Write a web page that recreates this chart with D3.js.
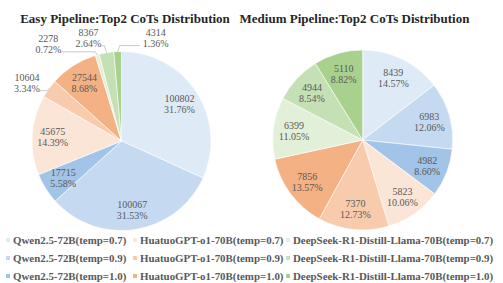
<!DOCTYPE html>
<html lang="en">
<head>
    <meta charset="UTF-8">
    <title>Top2 CoTs Distribution</title>
    <script src="https://d3js.org/d3.v7.min.js"></script>
    <style>
        body {
            margin: 0;
            padding: 0;
            background-color: white;
            font-family: 'Liberation Serif', 'Times New Roman', serif;
        }
    </style>
</head>
<body>
    <div id="chart"></div>

    <script>
        // series names (legend order = slice order)
        var seriesNames = [
            'Qwen2.5-72B(temp=0.7)', 'Qwen2.5-72B(temp=0.9)', 'Qwen2.5-72B(temp=1.0)',
            'HuatuoGPT-o1-70B(temp=0.7)', 'HuatuoGPT-o1-70B(temp=0.9)', 'HuatuoGPT-o1-70B(temp=1.0)',
            'DeepSeek-R1-Distill-Llama-70B(temp=0.7)', 'DeepSeek-R1-Distill-Llama-70B(temp=0.9)', 'DeepSeek-R1-Distill-Llama-70B(temp=1.0)'
        ];
        var seriesColors = [
            '#deebf7', '#c5daf0', '#a2c4e8',
            '#fbe5d6', '#f8cbad', '#f4b183',
            '#e2f0d9', '#c5e0b4', '#a9d18e'
        ];

        var easyValues = [100802, 100067, 17715, 45675, 10604, 27544, 2278, 8367, 4314];
        var easyPercents = ['31.76%', '31.53%', '5.58%', '14.39%', '3.34%', '8.68%', '0.72%', '2.64%', '1.36%'];

        var mediumValues = [8439, 6983, 4982, 5823, 7370, 7856, 6399, 4944, 5110];
        var mediumPercents = ['14.57%', '12.06%', '8.60%', '10.06%', '12.73%', '13.57%', '11.05%', '8.54%', '8.82%'];

        var width = 503, height = 283;

        var svg = d3.select("#chart")
            .append("svg")
            .attr("width", width)
            .attr("height", height);

        // callout placement for the thin slices of the easy pie (offset from slice edge)
        var easyCallouts = {
            4: { dx: -22, dy: -6 },
            6: { dx: -49, dy: -11 },
            7: { dx: -18, dy: -15 },
            8: { dx: 38, dy: -14 }
        };

        function drawPie(title, titleX, cx, cy, r, values, percents, callouts) {
            svg.append("text")
                .attr("x", titleX)
                .attr("y", 23)
                .attr("text-anchor", "middle")
                .style("font-weight", "bold")
                .style("font-size", "13px")
                .style("fill", "#262626")
                .text(title);

            var pie = d3.pie().sort(null).value(function (d) { return d; });
            var arcs = pie(values);
            var arc = d3.arc().innerRadius(0).outerRadius(r);
            var labelArc = d3.arc().innerRadius(r * 0.77).outerRadius(r * 0.77);
            var edgeArc = d3.arc().innerRadius(r).outerRadius(r);

            var g = svg.append("g")
                .attr("transform", "translate(" + cx + "," + cy + ")");

            g.selectAll("path")
                .data(arcs)
                .enter()
                .append("path")
                .attr("d", arc)
                .attr("fill", function (d, i) { return seriesColors[i]; })
                .attr("stroke", "white")
                .attr("stroke-width", 0.6);

            arcs.forEach(function (d, i) {
                var c = callouts[i];
                var x, y;
                if (c) {
                    var e = edgeArc.centroid(d);
                    x = e[0] + c.dx;
                    y = e[1] + c.dy;
                    var side = c.dx < 0 ? x + 13 : x - 16;
                    var ly = y + 8;
                    g.append("polyline")
                        .attr("points", [[side, ly], [e[0] + (c.dx < 0 ? -2 : 2), ly], e].join(" "))
                        .attr("fill", "none")
                        .attr("stroke", "#a6a6a6")
                        .attr("stroke-width", 0.6);
                } else {
                    var p = labelArc.centroid(d);
                    x = p[0];
                    y = p[1];
                }
                var t = g.append("text")
                    .attr("text-anchor", "middle")
                    .style("font-size", "10px")
                    .style("fill", "#595959");
                t.append("tspan").attr("x", x).attr("y", y - 1.5).text(values[i]);
                t.append("tspan").attr("x", x).attr("y", y + 9.5).text(percents[i]);
            });
        }

        drawPie("Easy Pipeline:Top2 CoTs Distribution", 125, 121.5, 141, 89.5,
            easyValues, easyPercents, easyCallouts);
        drawPie("Medium Pipeline:Top2 CoTs Distribution", 354.5, 362.7, 140, 90,
            mediumValues, mediumPercents, {});

        // legend, three columns
        var colX = [6, 133, 286];
        var rowY = [240, 258, 276];

        var legend = svg.append("g");
        seriesNames.forEach(function (name, i) {
            var col = Math.floor(i / 3), row = i % 3;
            var item = legend.append("g")
                .attr("transform", "translate(" + colX[col] + "," + rowY[row] + ")");
            item.append("rect")
                .attr("x", 0)
                .attr("y", -2)
                .attr("width", 4)
                .attr("height", 4)
                .attr("fill", seriesColors[i]);
            item.append("text")
                .attr("x", 7)
                .attr("y", 3.7)
                .style("font-size", "10.9px")
                .style("font-weight", "bold")
                .style("fill", "#595959")
                .text(name);
        });
    </script>
</body>
</html>
